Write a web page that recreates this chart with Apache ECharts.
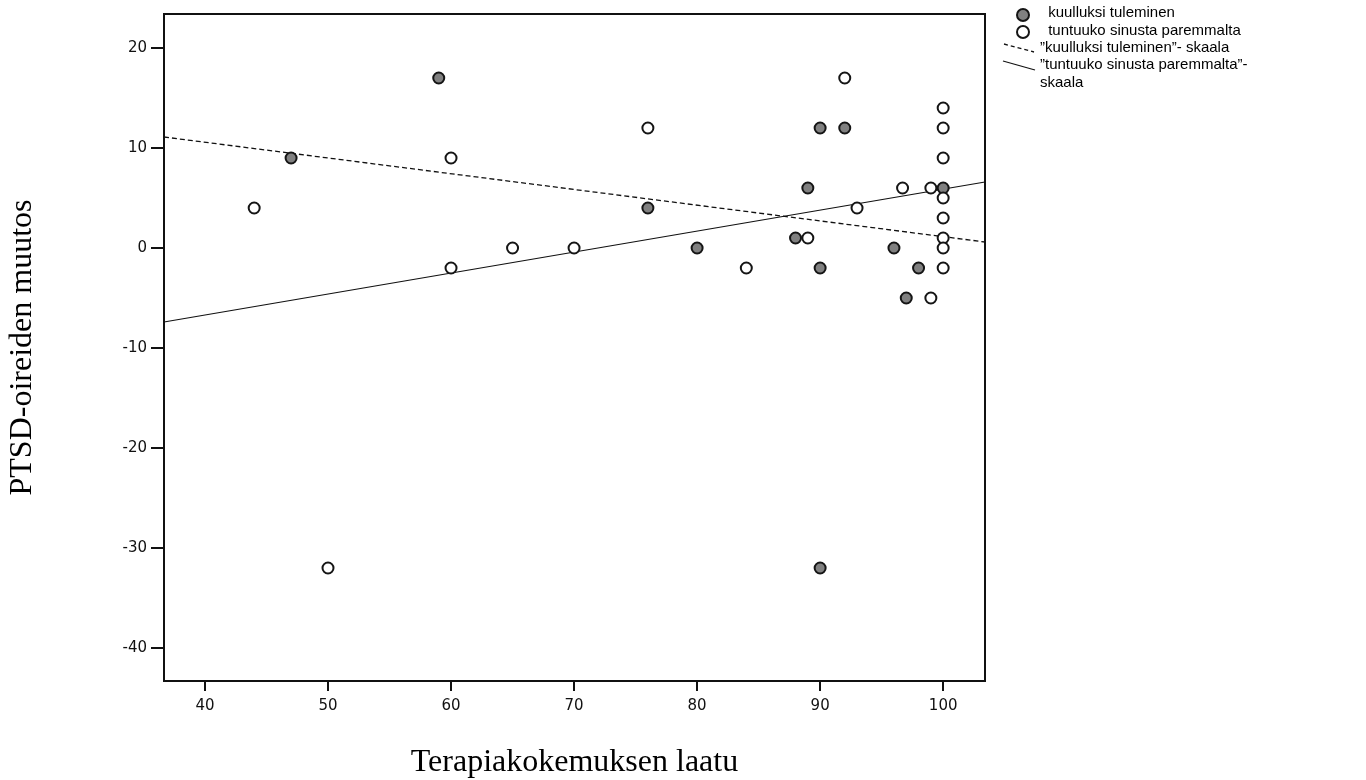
<!DOCTYPE html>
<html>
<head>
<meta charset="utf-8">
<script src="https://cdn.jsdelivr.net/npm/echarts@6/dist/echarts.min.js"></script>
<style>
  html, body { margin: 0; padding: 0; background: #fff; }
  #chart { width: 1366px; height: 780px; }
</style>
</head>
<body>
<div id="chart"></div>
<script>
// kuulluksi tuleminen (harmaat pisteet)
var kuulX = [59, 47, 76, 80, 89, 90, 92, 88, 90, 96, 98, 97, 100, 90];
var kuulY = [17, 9, 4, 0, 6, 12, 12, 1, -2, 0, -2, -5, 6, -32];
// tuntuuko sinusta paremmalta (valkoiset pisteet)
var tuntX = [44, 50, 60, 60, 65, 70, 76, 84, 89, 92, 93, 96.7, 99, 99, 100, 100, 100, 100, 100, 100, 100, 100];
var tuntY = [4, -32, 9, -2, 0, 0, 12, -2, 1, 17, 4, 6, 6, -5, 14, 12, 9, 5, 3, 1, 0, -2];
// sovitesuorat (luettu kuvasta)
var kuulFit = [[36.67, 11.1], [103.4, 0.6]];
var tuntFit = [[36.67, -7.4], [103.4, 6.6]];
var xTicks = [40, 50, 60, 70, 80, 90, 100];
var yTicks = [-40, -30, -20, -10, 0, 10, 20];
var xMin = 36.67, xMax = 103.4;
var yMin = -43.3, yMax = 23.4;

function pairs(xs, ys) {
  var out = [];
  for (var i = 0; i < xs.length; i++) {
    out.push([xs[i], ys[i]]);
  }
  return out;
}

var legendFont = '15px "Liberation Sans", Arial, sans-serif';
var chart = echarts.init(document.getElementById('chart'));
chart.setOption({
  animation: false,
  backgroundColor: '#fff',
  grid: {
    left: 164, right: 381, top: 14, bottom: 99,
    outerBoundsMode: 'none',
    show: true, borderColor: '#111', borderWidth: 2, backgroundColor: 'transparent'
  },
  xAxis: {
    type: 'value',
    min: xMin, max: xMax,
    name: 'Terapiakokemuksen laatu',
    nameLocation: 'middle',
    nameGap: 66,
    nameTextStyle: { fontFamily: 'Liberation Serif', fontSize: 32, color: '#000' },
    splitLine: { show: false },
    axisLine: { show: true, onZero: false, lineStyle: { color: '#111', width: 2 } },
    axisTick: { show: true, length: 10, lineStyle: { color: '#111', width: 2 }, customValues: xTicks },
    axisLabel: { color: '#111', fontFamily: 'DejaVu Sans', fontSize: 15, margin: 18, customValues: xTicks }
  },
  yAxis: {
    type: 'value',
    min: yMin, max: yMax,
    name: 'PTSD-oireiden muutos',
    nameLocation: 'middle',
    nameGap: 125,
    nameTextStyle: { fontFamily: 'Liberation Serif', fontSize: 32, color: '#000' },
    splitLine: { show: false },
    axisLine: { show: true, onZero: false, lineStyle: { color: '#111', width: 2 } },
    axisTick: { show: true, length: 13, lineStyle: { color: '#111', width: 2 }, customValues: yTicks },
    axisLabel: { color: '#111', fontFamily: 'DejaVu Sans', fontSize: 15, margin: 17, customValues: yTicks }
  },
  series: [
    {
      name: '"kuulluksi tuleminen"- skaala',
      type: 'line',
      data: kuulFit,
      symbol: 'none',
      lineStyle: { color: '#111', width: 1.3, type: [5, 3] },
      z: 2
    },
    {
      name: '"tuntuuko sinusta paremmalta"- skaala',
      type: 'line',
      data: tuntFit,
      symbol: 'none',
      lineStyle: { color: '#111', width: 1.2 },
      z: 2
    },
    {
      name: 'kuulluksi tuleminen',
      type: 'scatter',
      data: pairs(kuulX, kuulY),
      symbol: 'circle',
      symbolSize: 11,
      itemStyle: { color: '#808080', borderColor: '#151515', borderWidth: 2, opacity: 1 },
      z: 3
    },
    {
      name: 'tuntuuko sinusta paremmalta',
      type: 'scatter',
      data: pairs(tuntX, tuntY),
      symbol: 'circle',
      symbolSize: 11,
      itemStyle: { color: '#fff', borderColor: '#151515', borderWidth: 2, opacity: 1 },
      z: 4
    }
  ],
  graphic: [
    { type: 'circle', shape: { cx: 1023, cy: 15, r: 6 }, style: { fill: '#808080', stroke: '#151515', lineWidth: 2 } },
    { type: 'circle', shape: { cx: 1023, cy: 32, r: 6 }, style: { fill: '#fff', stroke: '#151515', lineWidth: 2 } },
    { type: 'line', shape: { x1: 1004, y1: 44, x2: 1034, y2: 52 }, style: { stroke: '#111', lineWidth: 1.3, lineDash: [4, 3] } },
    { type: 'line', shape: { x1: 1003, y1: 61, x2: 1035, y2: 70 }, style: { stroke: '#111', lineWidth: 1.2 } },
    { type: 'text', left: 1044, top: 5, style: { text: ' kuulluksi tuleminen', font: legendFont, fill: '#000' } },
    { type: 'text', left: 1044, top: 23, style: { text: ' tuntuuko sinusta paremmalta', font: legendFont, fill: '#000' } },
    { type: 'text', left: 1040, top: 40, style: { text: '\u201dkuulluksi tuleminen\u201d- skaala', font: legendFont, fill: '#000' } },
    { type: 'text', left: 1040, top: 57, style: { text: '\u201dtuntuuko sinusta paremmalta\u201d-', font: legendFont, fill: '#000' } },
    { type: 'text', left: 1040, top: 75, style: { text: 'skaala', font: legendFont, fill: '#000' } }
  ]
});
</script>
</body>
</html>
